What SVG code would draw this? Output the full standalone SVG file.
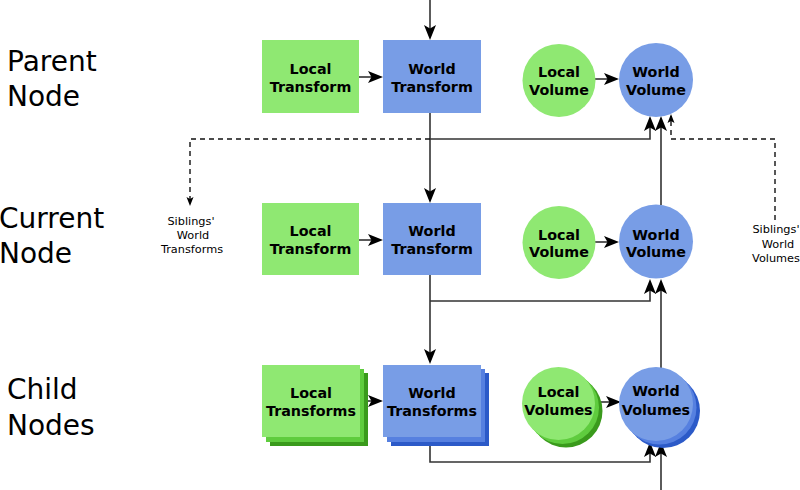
<svg xmlns="http://www.w3.org/2000/svg" width="800" height="490" viewBox="0 0 800 490">
<style>
.lbl{font-family:"DejaVu Sans",sans-serif;font-size:28px;fill:#000}
.t{font-family:"DejaVu Sans",sans-serif;font-weight:bold;font-size:14.3px;fill:#000;text-anchor:middle}
.s{font-family:"DejaVu Sans",sans-serif;font-size:11.3px;fill:#000;text-anchor:middle}
.g{fill:#8fe872}
.gm{fill:#5fcc3e}
.gd{fill:#3a9a1c}
.b{fill:#789de6}
.bm{fill:#5680e0}
.bd{fill:#2c5ac8}
.ln{fill:none;stroke:#333;stroke-width:1.6}
.dl{fill:none;stroke:#111;stroke-width:1.4;stroke-dasharray:5,4}
</style>
<defs>
<marker id="ah" markerUnits="userSpaceOnUse" markerWidth="20" markerHeight="20" viewBox="-13 -7 20 14" refX="0" refY="0" orient="auto" overflow="visible">
<path d="M4,0 L-11,-6 L-7.5,0 L-11,6 Z" fill="#000"/>
</marker>
<marker id="as" markerUnits="userSpaceOnUse" markerWidth="12" markerHeight="12" viewBox="-8 -4 12 8" refX="0" refY="0" orient="auto" overflow="visible">
<path d="M2,0 L-7,-3.5 L-5,0 L-7,3.5 Z" fill="#000"/>
</marker>
</defs>

<g id="row-labels">
<text class="lbl" x="7" y="71">Parent</text>
<text class="lbl" x="7" y="106">Node</text>
<text class="lbl" x="-1" y="228">Current</text>
<text class="lbl" x="-1" y="263">Node</text>
<text class="lbl" x="7" y="399">Child</text>
<text class="lbl" x="7" y="435">Nodes</text>
</g>

<g id="connectors">
<path class="ln" d="M430,0 V36" marker-end="url(#ah)"/>
<path class="ln" d="M359,77 H379" marker-end="url(#ah)"/>
<path class="ln" d="M594,79 H615" marker-end="url(#ah)"/>
<path class="ln" d="M430,113 V199" marker-end="url(#ah)"/>
<path class="ln" d="M430,139 H650 V120" marker-end="url(#ah)"/>
<path class="ln" d="M661,205 V120" marker-end="url(#ah)"/>
<path class="dl" d="M430,139 H190 V204" marker-end="url(#as)"/>
<path class="dl" d="M775,220 V139 H671 V116" marker-end="url(#as)"/>

<path class="ln" d="M359,240 H379" marker-end="url(#ah)"/>
<path class="ln" d="M594,242 H615" marker-end="url(#ah)"/>
<path class="ln" d="M430,275 V360" marker-end="url(#ah)"/>
<path class="ln" d="M430,301 H650 V283" marker-end="url(#ah)"/>
<path class="ln" d="M661,368 V283" marker-end="url(#ah)"/>

<path class="ln" d="M360,401 H379" marker-end="url(#ah)"/>
<path class="ln" d="M595,402 H617" marker-end="url(#ah)"/>
<path class="ln" d="M430,437 V462 H650 V446" marker-end="url(#ah)"/>
<path class="ln" d="M661,490 V446" marker-end="url(#ah)"/>
</g>

<g id="parent-local-transform">
<rect class="g" x="262" y="40" width="97" height="73"/>
<text class="t" x="310.5" y="74">Local</text>
<text class="t" x="310.5" y="92">Transform</text>
</g>
<g id="parent-world-transform">
<rect class="b" x="383" y="40" width="98" height="73"/>
<text class="t" x="432" y="74">World</text>
<text class="t" x="432" y="92">Transform</text>
</g>
<g id="parent-local-volume">
<circle class="g" cx="559" cy="80.5" r="36.5"/>
<text class="t" x="559" y="77">Local</text>
<text class="t" x="559" y="95">Volume</text>
</g>
<g id="parent-world-volume">
<circle class="b" cx="656" cy="80" r="37"/>
<text class="t" x="656" y="77">World</text>
<text class="t" x="656" y="95">Volume</text>
</g>

<g id="siblings-world-transforms">
<text class="s" x="191" y="225">Siblings'</text>
<text class="s" x="193" y="239">World</text>
<text class="s" x="192" y="253">Transforms</text>
</g>
<g id="siblings-world-volumes">
<text class="s" x="776" y="233">Siblings'</text>
<text class="s" x="778" y="248">World</text>
<text class="s" x="776" y="262">Volumes</text>
</g>

<g id="current-local-transform">
<rect class="g" x="262" y="203" width="97" height="72"/>
<text class="t" x="310.5" y="236">Local</text>
<text class="t" x="310.5" y="254">Transform</text>
</g>
<g id="current-world-transform">
<rect class="b" x="383" y="203" width="98" height="72"/>
<text class="t" x="432" y="236">World</text>
<text class="t" x="432" y="254">Transform</text>
</g>
<g id="current-local-volume">
<circle class="g" cx="559" cy="242.5" r="36.5"/>
<text class="t" x="559" y="240">Local</text>
<text class="t" x="559" y="257">Volume</text>
</g>
<g id="current-world-volume">
<circle class="b" cx="656" cy="241.5" r="37"/>
<text class="t" x="656" y="240">World</text>
<text class="t" x="656" y="257">Volume</text>
</g>

<g id="child-local-transforms">
<rect class="gd" x="270" y="373" width="98" height="73"/>
<rect class="gm" x="266" y="369" width="98" height="73"/>
<rect class="g" x="262" y="365" width="98" height="72"/>
<text class="t" x="311" y="398">Local</text>
<text class="t" x="311" y="416">Transforms</text>
</g>
<g id="child-world-transforms">
<rect class="bd" x="391" y="373" width="98" height="73"/>
<rect class="bm" x="387" y="369" width="98" height="73"/>
<rect class="b" x="383" y="365" width="98" height="72"/>
<text class="t" x="432" y="398">World</text>
<text class="t" x="432" y="416">Transforms</text>
</g>
<g id="child-local-volumes">
<circle class="gd" cx="566" cy="411" r="36.5"/>
<circle class="gm" cx="562.5" cy="407.5" r="36.5"/>
<circle class="g" cx="558.5" cy="403.5" r="36.5"/>
<text class="t" x="558.5" y="397">Local</text>
<text class="t" x="558.5" y="415">Volumes</text>
</g>
<g id="child-world-volumes">
<circle class="bd" cx="663" cy="411" r="37"/>
<circle class="bm" cx="659.5" cy="407.5" r="37"/>
<circle class="b" cx="656" cy="404" r="37"/>
<text class="t" x="656" y="396">World</text>
<text class="t" x="656" y="415">Volumes</text>
</g>
</svg>
